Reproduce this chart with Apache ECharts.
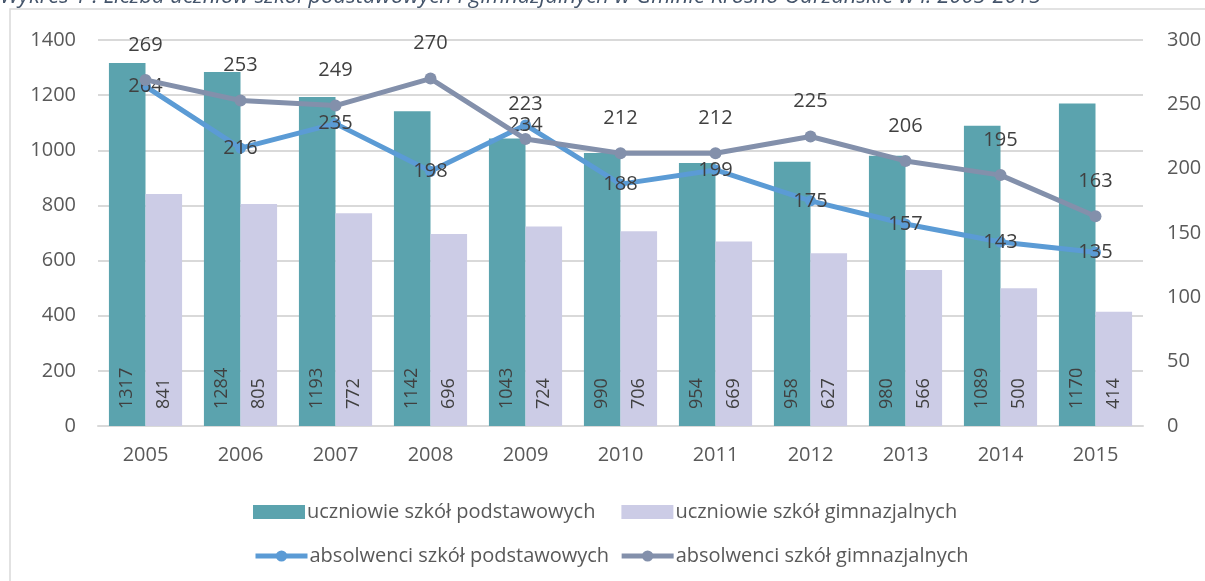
<!DOCTYPE html>
<html>
<head>
<meta charset="utf-8">
<script src="https://cdn.jsdelivr.net/npm/echarts@6/dist/echarts.min.js"></script>
<style>
html,body{margin:0;padding:0;background:#fff;}
#chart{width:1205px;height:581px;}
</style>
</head>
<body>
<div id="chart"></div>
<script>
const years = ['2005','2006','2007','2008','2009','2010','2011','2012','2013','2014','2015'];
const uczniowiePodst = [1317,1284,1193,1142,1043,990,954,958,980,1089,1170];
const uczniowieGimn = [841,805,772,696,724,706,669,627,566,500,414];
const absolwenciPodst = [264,216,235,198,234,188,199,175,157,143,135];
const absolwenciGimn = [269,253,249,270,223,212,212,225,206,195,163];
const leftTicks = [0,200,400,600,800,1000,1200,1400];
const rightTicks = [0,50,100,150,200,250,300];
const titleText = 'Wykres 1 . Liczba uczniów szkół podstawowych i gimnazjalnych w Gminie Krosno Odrzańskie w l. 2005-2015';
const names = ['uczniowie szkół podstawowych','uczniowie szkół gimnazjalnych','absolwenci szkół podstawowych','absolwenci szkół gimnazjalnych'];

const FONT = 'Open Sans';
const TXT = '#595959';
const chart = echarts.init(document.getElementById('chart'));
const barLabel = {
  show: true, position: 'insideBottom', rotate: 90, align: 'left', verticalAlign: 'middle',
  distance: 17, color: '#404040', fontSize: 18, fontFamily: FONT
};
chart.setOption({
  animation: false,
  textStyle: {fontFamily: FONT},
  graphic: [
    {type: 'rect', shape: {x: 10, y: 9, width: 1400, height: 800}, style: {fill: 'none', stroke: '#d9d9d9', lineWidth: 1.5}, silent: true, z: -1},
    {type: 'text', left: 0, top: -14, style: {text: titleText, fill: '#44546a', font: 'italic 22px "Open Sans"'}}
  ],
  grid: {left: 98, right: 62, top: 40, bottom: 155},
  legend: [
    {data: [names[0], names[1]], left: 248, top: 497, itemWidth: 52, itemHeight: 14, itemGap: 26,
     textStyle: {color: TXT, fontSize: 20, fontFamily: FONT, padding: [0,0,0,-3]}, icon: 'rect'},
    {data: [names[2], names[3]], left: 248, top: 541, itemWidth: 52, itemHeight: 14, itemGap: 10,
     lineStyle: {width: 5},
     textStyle: {color: TXT, fontSize: 20, fontFamily: FONT, padding: [0,0,0,-3]}}
  ],
  xAxis: {
    type: 'category', data: years,
    axisLine: {lineStyle: {color: '#d9d9d9', width: 2}}, axisTick: {show: false},
    axisLabel: {color: TXT, fontSize: 20, margin: 19, fontFamily: FONT}
  },
  yAxis: [
    {type: 'value', min: leftTicks[0], max: leftTicks[leftTicks.length-1], interval: 200,
     axisLine: {show: false}, axisTick: {show: false},
     axisLabel: {color: TXT, fontSize: 20, margin: 22, fontFamily: FONT, formatter: v => String(v)},
     splitLine: {lineStyle: {color: '#d9d9d9', width: 2}}},
    {type: 'value', min: rightTicks[0], max: rightTicks[rightTicks.length-1], interval: 50,
     axisLine: {show: false}, axisTick: {show: false},
     axisLabel: {color: TXT, fontSize: 20, margin: 24, fontFamily: FONT, formatter: v => String(v)},
     splitLine: {show: false}}
  ],
  series: [
    {name: names[0], type: 'bar', data: uczniowiePodst, barGap: '0%', barCategoryGap: '23%',
     itemStyle: {color: '#5ba3ae'}, label: barLabel},
    {name: names[1], type: 'bar', data: uczniowieGimn,
     itemStyle: {color: '#cccce6'}, label: barLabel},
    {name: names[2], type: 'line', yAxisIndex: 1, data: absolwenciPodst,
     symbol: 'circle', symbolSize: 11, lineStyle: {color: '#5b9bd5', width: 5}, itemStyle: {color: '#5b9bd5'},
     label: {show: true, position: 'inside', color: '#404040', fontSize: 20, fontFamily: FONT}, z: 3},
    {name: names[3], type: 'line', yAxisIndex: 1, data: absolwenciGimn,
     symbol: 'circle', symbolSize: 12, lineStyle: {color: '#8390ab', width: 5}, itemStyle: {color: '#8390ab'},
     label: {show: true, position: 'top', distance: 19, color: '#404040', fontSize: 20, fontFamily: FONT}, z: 4}
  ]
});
</script>
</body>
</html>
